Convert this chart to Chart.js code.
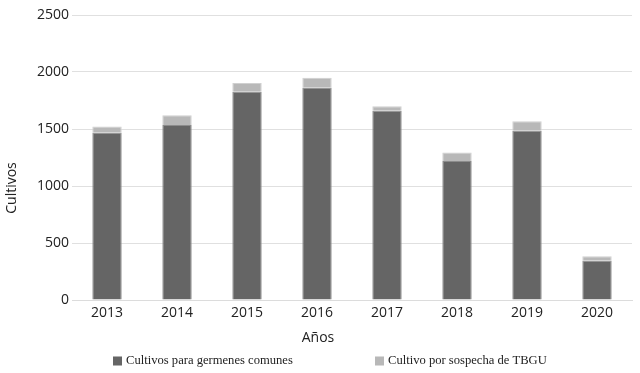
<!DOCTYPE html>
<html>
<head>
<meta charset="utf-8">
<script src="https://cdn.jsdelivr.net/npm/chart.js@4/dist/chart.umd.min.js"></script>
<style>
html,body{margin:0;padding:0;background:#fff;}
#wrap{width:640px;height:373px;position:relative;}
</style>
</head>
<body>
<div id="wrap"><canvas id="c" width="640" height="373"></canvas></div>
<script>
const years = ["2013","2014","2015","2016","2017","2018","2019","2020"];
const comunes = [1470, 1535, 1826, 1864, 1659, 1220, 1485, 347];
const tbgu = [53, 85, 77, 86, 41, 73, 82, 36];
const yTicks = [0, 500, 1000, 1500, 2000, 2500];
const yTitle = 'Cultivos';
const xTitle = 'Años';

const tickFont = {family: "'Open Sans', sans-serif", size: 14, lineHeight: 1};

const extras = {
  id: 'extras',
  afterDraw(chart) {
    const ctx = chart.ctx;
    ctx.save();
    ctx.fillStyle = '#222';
    ctx.font = "14px 'Open Sans', sans-serif";
    ctx.textAlign = 'center';
    ctx.textBaseline = 'middle';
    // x title
    ctx.fillText(xTitle, 318, 338);
    // y title
    ctx.translate(12, 188);
    ctx.rotate(-Math.PI / 2);
    ctx.fillText(yTitle, 0, 0);
    ctx.restore();
    // legend
    ctx.save();
    ctx.font = "12.6px 'Liberation Serif', serif";
    ctx.textBaseline = 'middle';
    ctx.textAlign = 'left';
    const xs = [113, 375];
    chart.data.datasets.forEach((ds, i) => {
      const x = xs[i], y = 361;
      ctx.fillStyle = ds.backgroundColor;
      ctx.fillRect(x, y - 4.5, 9, 9);
      ctx.fillStyle = '#222';
      ctx.fillText(ds.label, x + 13, y);
    });
    ctx.restore();
  }
};

new Chart(document.getElementById('c'), {
  type: 'bar',
  data: {
    labels: years,
    datasets: [
      {label: 'Cultivos para germenes comunes', data: comunes, backgroundColor: '#656565', borderColor: '#8c8c8c', borderWidth: 1, barPercentage: 0.6, categoryPercentage: 0.7},
      {label: 'Cultivo por sospecha de TBGU', data: tbgu, backgroundColor: '#b8b8b8', borderColor: '#d0d0d0', borderWidth: 1, barPercentage: 0.6, categoryPercentage: 0.7}
    ]
  },
  plugins: [extras],
  options: {
    responsive: false,
    animation: false,
    layout: {padding: {left: 34, right: 8, top: 15, bottom: 47}},
    plugins: {
      legend: {display: false},
      tooltip: {enabled: false}
    },
    scales: {
      x: {
        stacked: true,
        grid: {display: false, drawTicks: false},
        border: {display: true, color: '#dcdcdc'},
        ticks: {font: tickFont, color: '#222', padding: 6}
      },
      y: {
        stacked: true,
        min: 0, max: 2500,
        afterBuildTicks: (s) => { s.ticks = yTicks.map(v => ({value: v})); },
        grid: {color: '#e0e0e0', drawTicks: false},
        border: {display: false},
        ticks: {font: tickFont, color: '#222', padding: 3, callback: (v) => String(v)}
      }
    }
  }
});
</script>
</body>
</html>
